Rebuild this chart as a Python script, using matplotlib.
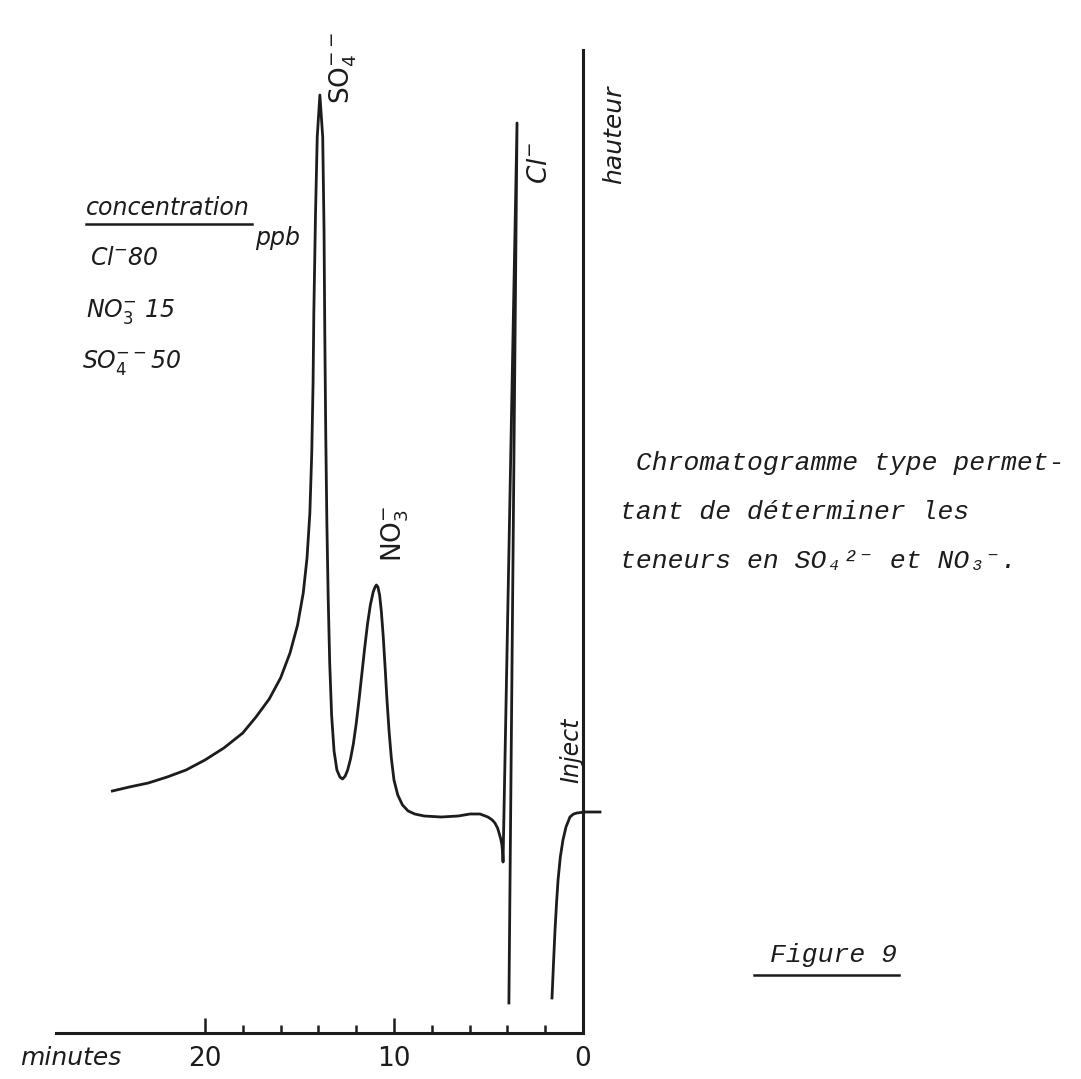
import numpy as np
import matplotlib
matplotlib.use('Agg')
import matplotlib.pyplot as plt
from matplotlib.lines import Line2D

plt.rcParams['font.family'] = ['DejaVu Sans']
plt.rcParams['mathtext.fontset'] = 'dejavusans'
plt.rcParams['mathtext.default'] = 'it'

# recorder trace, time in minutes (0 = injection, time runs to the left), height in chart units
trace_t = [24.9, 24.0, 23.0, 22.0, 21.0, 20.0, 19.0, 18.0, 17.3, 16.6, 16.0, 15.5, 15.1, 14.8, 14.6,
           14.45, 14.35, 14.28, 14.24, 14.15, 14.06, 13.92,
           13.77, 13.70, 13.66, 13.61, 13.55, 13.48, 13.40, 13.30, 13.17, 13.02, 12.86, 12.72, 12.58,
           12.45, 12.3, 12.15, 12.0, 11.85, 11.7, 11.55, 11.4, 11.25, 11.1, 11.0, 10.93, 10.85,
           10.76, 10.67, 10.57, 10.47, 10.37, 10.26, 10.14, 10.0, 9.8, 9.55, 9.25, 8.9, 8.4, 7.5,
           6.6, 5.98, 5.45, 5.03, 4.80, 4.66, 4.52, 4.44, 4.35, 4.29, 4.25, 4.23,
           3.49, 3.92, np.nan,
           1.64, 1.56, 1.48, 1.40, 1.32, 1.20, 1.06, 0.90, 0.69, 0.50, 0.32, -0.1, -0.9]
trace_h = [24.2, 24.6, 25.0, 25.6, 26.3, 27.3, 28.5, 30.0, 31.6, 33.4, 35.5, 38.0, 40.8, 44.0, 47.5,
           52.0, 58.0, 65.0, 72.0, 82.0, 89.6, 93.8,
           89.6, 80.3, 70.0, 60.0, 51.0, 43.5, 37.0, 31.8, 28.2, 26.3, 25.6, 25.4, 25.7,
           26.3, 27.4, 28.9, 30.9, 33.3, 35.9, 38.5, 40.9, 42.8, 44.1, 44.6, 44.8, 44.6,
           43.8, 42.2, 39.7, 36.6, 33.3, 30.2, 27.5, 25.3, 23.8, 22.8, 22.2, 21.9, 21.7, 21.6,
           21.7, 21.9, 21.9, 21.6, 21.3, 21.0, 20.5, 20.0, 19.4, 18.8, 18.0, 17.1,
           91.0, 3.0, np.nan,
           3.5, 7.0, 10.3, 13.0, 15.3, 17.6, 19.3, 20.6, 21.6, 21.9, 22.0, 22.1, 22.1]

major_ticks = [20, 10, 0]
major_labels = ['20', '10', '0']
minor_ticks = [18, 16, 14, 12, 8, 6, 4, 2]

legend_lines = [r'Cl$^{-}$80', r'NO$_3^{-}$ 15', r'SO$_4^{--}$50']
caption = [' Chromatogramme type permet-',
           'tant de déterminer les',
           'teneurs en SO₄²⁻ et NO₃⁻.']

ink = '#1c1c1c'

fig = plt.figure(figsize=(10.81, 10.79), dpi=100)
fig.patch.set_facecolor('white')
ax = fig.add_axes([56 / 1081, 46 / 1079, 527 / 1081, 983 / 1079])
ax.set_xlim(27.88, 0)
ax.set_ylim(0, 98.3)
ax.set_facecolor('none')

for s in ['top', 'left']:
    ax.spines[s].set_visible(False)
for s in ['bottom', 'right']:
    ax.spines[s].set_linewidth(2.2)
    ax.spines[s].set_color(ink)

ax.set_xticks(major_ticks)
ax.set_xticklabels(major_labels, fontsize=19, color=ink)
ax.set_xticks(minor_ticks, minor=True)
ax.tick_params(axis='x', which='major', direction='in', length=11, width=1.8, pad=9, color=ink)
ax.tick_params(axis='x', which='minor', direction='in', length=6, width=1.8, color=ink)
ax.set_yticks([])

ax.plot(trace_t, trace_h, color=ink, lw=2.0, clip_on=False, solid_joinstyle='round')

# peak labels
ax.text(12.70, 96.5, r'SO$_4^{--}$', rotation=90, ha='center', va='center', fontsize=19, color=ink)
ax.text(9.95, 49.9, r'NO$_3^{-}$', rotation=90, ha='center', va='center', fontsize=19, color=ink)
ax.text(2.28, 87.0, 'Cl$^{-}$', rotation=90, ha='center', va='center', fontsize=19, color=ink, style='oblique')
ax.text(-1.64, 89.8, 'hauteur', rotation=90, ha='center', va='center', fontsize=18, color=ink, style='oblique')
ax.text(0.63, 28.3, 'Inject', rotation=90, ha='center', va='center', fontsize=17, color=ink, style='oblique')
ax.text(27.1, -1.3, 'minutes', ha='center', va='top', fontsize=18, color=ink, style='oblique')

# concentration legend
conc = ax.text(26.3, 81.8, 'concentration', ha='left', va='baseline', fontsize=17, color=ink, style='oblique')
ax.text(16.14, 79.5, 'ppb', ha='center', va='center', fontsize=17, color=ink, style='oblique')
for i, line in enumerate(legend_lines):
    ax.text(26.1 + 0.2 * i, 76.8 - 5.15 * i, line, ha='left', va='baseline', fontsize=17, color=ink,
            style='oblique')

# caption
for i, line in enumerate(caption):
    ax.text(-1.96, 56.3 - 4.9 * i, line, ha='left', va='baseline', fontsize=19, color=ink,
            family=['Liberation Mono', 'DejaVu Sans Mono'], style='italic')
fig9 = ax.text(-9.89, 7.1, 'Figure 9', ha='left', va='baseline', fontsize=19, color=ink,
               family=['Liberation Mono', 'DejaVu Sans Mono'], style='italic')

# underlines derived from the rendered text extents
fig.canvas.draw()
inv = fig.transFigure.inverted()
for t, gap, extra in [(conc, 4, 0), (fig9, 8, 16)]:
    bb = t.get_window_extent()
    (x0, y0), (x1, _) = inv.transform([(bb.x0 - extra, bb.y0 - gap), (bb.x1 + 2, bb.y0)])
    fig.add_artist(Line2D([x0, x1], [y0, y0], color=ink, lw=1.8))

fig.savefig('out.png', dpi=100, facecolor='white')
